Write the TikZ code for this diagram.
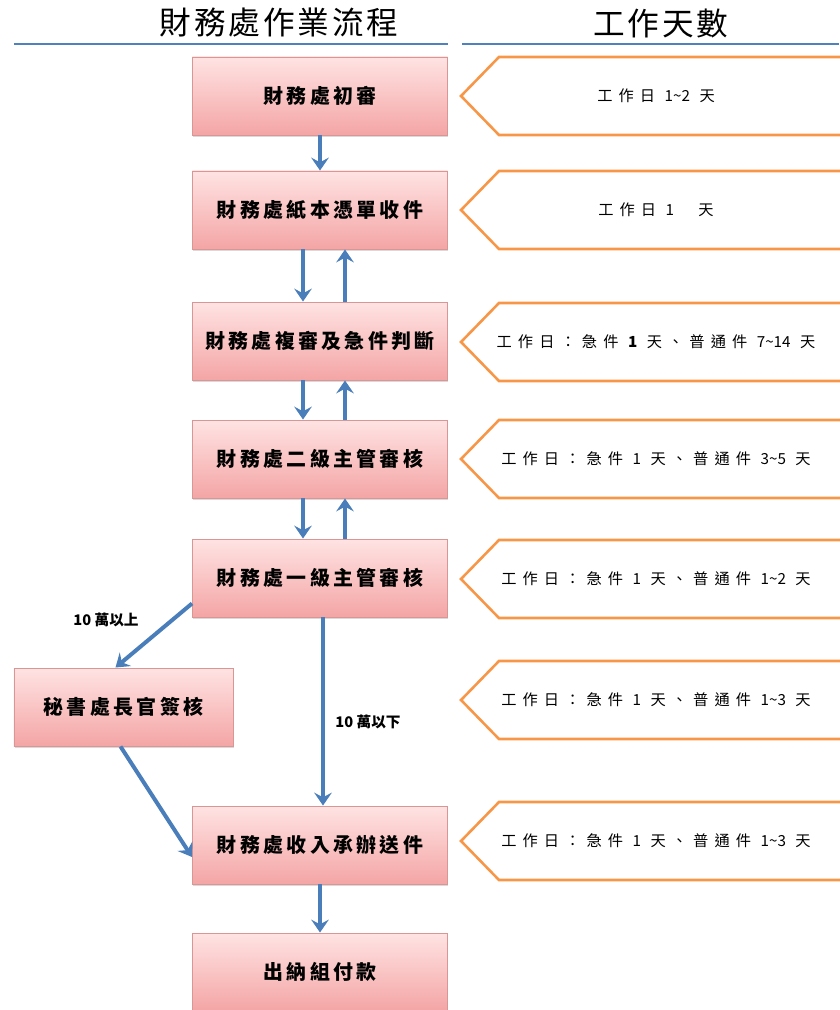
\documentclass[tikz,border=0pt]{standalone}
\usepackage{fontspec}
\usepackage{tikz}
\usetikzlibrary{arrows.meta,calc,shadows}

\newfontfamily\cjk{Noto Sans CJK TC}
\newfontfamily\cjkbox[LetterSpace=17]{Noto Sans CJK TC}
\newfontfamily\cjkday[LetterSpace=40]{Noto Sans CJK TC}
\newfontfamily\cjktitle[LetterSpace=9]{Noto Sans CJK TC}

\definecolor{flowblue}{HTML}{4A7EBB}
\definecolor{lineblue}{HTML}{4F81BD}
\definecolor{dayorange}{HTML}{F79646}
\definecolor{boxedge}{HTML}{D99694}
\definecolor{boxtop}{HTML}{FFE3E3}
\definecolor{boxbottom}{HTML}{F4A5A5}

\tikzset{
  stepbox/.style={draw=boxedge, line width=0.8pt, top color=boxtop, bottom color=boxbottom,
    minimum width=7.65cm, minimum height=2.34cm, inner sep=0pt,
    drop shadow={shadow xshift=0.8pt, shadow yshift=-1.5pt, opacity=0.3},
    font=\cjkbox\bfseries\fontsize{17}{20}\selectfont},
  daybox/.style={draw=dayorange, line width=2.2pt, line join=miter},
  daytext/.style={font=\cjkday\fontsize{13}{16}\selectfont},
  flow/.style={draw=flowblue, line width=3.4pt, -{Stealth[length=11pt,width=15pt,inset=4pt]}},
  headline/.style={draw=lineblue, line width=1.8pt},
  note/.style={font=\cjk\bfseries\fontsize{12.5}{15}\selectfont}
}

\begin{document}
\begin{tikzpicture}[x=0.03cm, y=-0.03cm]
    \useasboundingbox (0,0) rectangle (839,1010);

    % Titles
    \node[font=\cjktitle\fontsize{27}{30}\selectfont] (title1) at (279,23) {財務處作業流程};
    \node[font=\cjktitle\fontsize{27}{30}\selectfont] (title2) at (661,23) {工作天數};
    \draw[headline] (14,44) -- (448,44);
    \draw[headline] (462,44) -- (839,44);

    % Working days
    \foreach \y/\days [count=\i] in {
        96/{工作日 {\cjk 1\textasciitilde2} 天},
        210/{工作日 {\cjk 1}\hspace{1.6em}天},
        342/{工作日：急件 {\cjk\bfseries 1} 天、普通件 {\cjk 7\textasciitilde14} 天},
        459/{工作日：急件 {\cjk 1} 天、普通件 {\cjk 3\textasciitilde5} 天},
        579/{工作日：急件 {\cjk 1} 天、普通件 {\cjk 1\textasciitilde2} 天},
        700/{工作日：急件 {\cjk 1} 天、普通件 {\cjk 1\textasciitilde3} 天},
        841/{工作日：急件 {\cjk 1} 天、普通件 {\cjk 1\textasciitilde3} 天}} {
        \draw[daybox] (461,\y) -- (499,\y-39) -- (850,\y-39) -- (850,\y+39) -- (499,\y+39) -- cycle;
        \node[daytext] (day\i) at (656,\y) {\days};
    }

    % Steps
    \node[stepbox] (first) at (320,96) {財務處初審};
    \node[stepbox] (paper) at (320,210) {財務處紙本憑單收件};
    \node[stepbox] (review) at (320,341) {財務處複審及急件判斷};
    \node[stepbox] (second) at (320,459) {財務處二級主管審核};
    \node[stepbox] (chief) at (320,578) {財務處一級主管審核};
    \node[stepbox, minimum width=6.57cm] (secretary) at (123.5,707) {秘書處長官簽核};
    \node[stepbox] (income) at (320,845) {財務處收入承辦送件};
    \node[stepbox] (cashier) at (320,972) {出納組付款};

    % Arrows
    \draw[flow] (first) -- (paper);
    \draw[flow] ($(paper.south)+(-17,0)$) -- ($(review.north)+(-17,0)$);
    \draw[flow] ($(review.north)+(25,0)$) -- ($(paper.south)+(25,0)$);
    \draw[flow] ($(review.south)+(-17,0)$) -- ($(second.north)+(-17,0)$);
    \draw[flow] ($(second.north)+(25,0)$) -- ($(review.south)+(25,0)$);
    \draw[flow] ($(second.south)+(-17,0)$) -- ($(chief.north)+(-17,0)$);
    \draw[flow] ($(chief.north)+(25,0)$) -- ($(second.south)+(25,0)$);
    \draw[flow] ($(chief.south west)+(0,-14)$) -- ($(secretary.north)+(-8,0)$);
    \draw[flow] ($(chief.south)+(3,0)$) -- ($(income.north)+(3,0)$);
    \draw[flow] ($(secretary.south)+(-3,0)$) -- ($(income.west)+(0,12)$);
    \draw[flow] (income) -- (cashier);

    % Labels
    \node[note] (over) at (106,620) {10 萬以上};
    \node[note] (under) at (368,722) {10 萬以下};
\end{tikzpicture}
\end{document}
